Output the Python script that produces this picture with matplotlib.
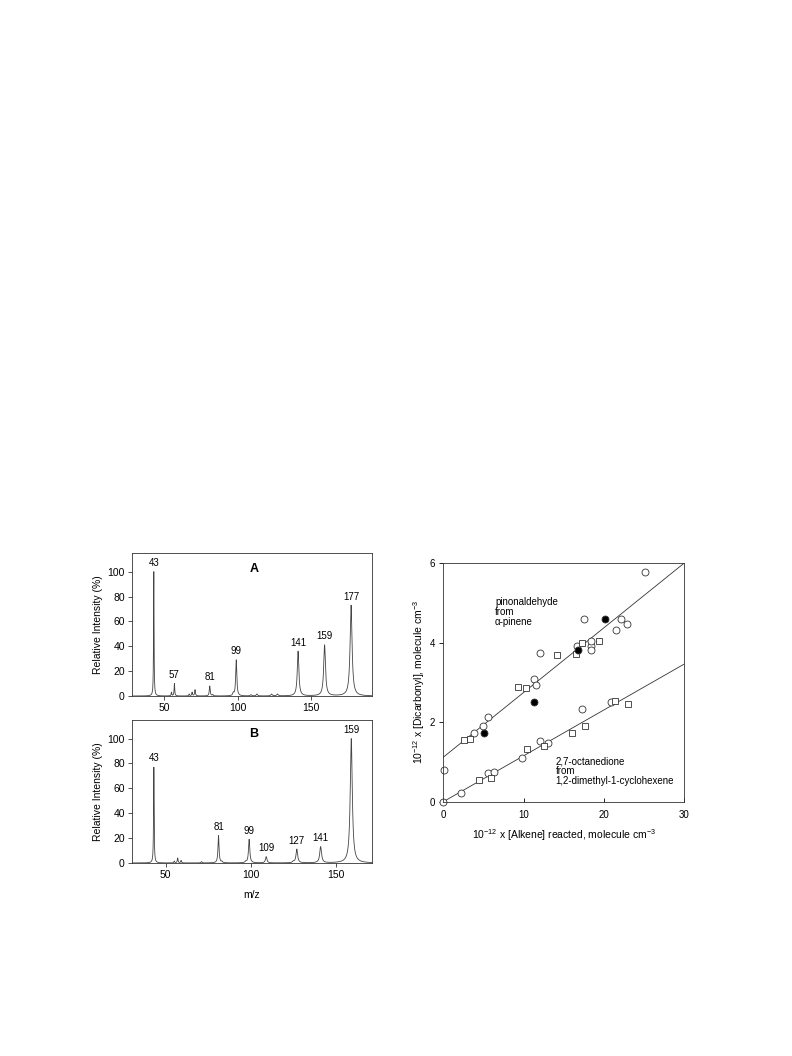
import numpy as np
import matplotlib.pyplot as plt

plt.rcParams['font.family'] = ['Liberation Sans', 'DejaVu Sans']
plt.rcParams['mathtext.fontset'] = 'custom'
plt.rcParams['mathtext.rm'] = 'Liberation Sans'
plt.rcParams['mathtext.it'] = 'Liberation Sans:italic'

# spectrum A: peak m/z and relative intensity (%)
mz_a = [43, 55, 57, 67, 69, 71, 81, 83, 97, 99, 109, 113, 123, 127, 141, 159, 177]
int_a = [100, 3, 10, 1.5, 3, 5, 8, 1, 2, 29, 1, 1.5, 1.5, 1.5, 36, 41, 73]
lab_a = [43, 57, 81, 99, 141, 159, 177]

# spectrum B
mz_b = [43, 55, 57, 59, 71, 81, 83, 97, 99, 109, 125, 127, 141, 159]
int_b = [77, 1.5, 4, 2, 1, 22, 1, 1, 19, 5, 1, 11, 13, 100]
lab_b = [43, 81, 99, 109, 127, 141, 159]

# right panel: pinonaldehyde from alpha-pinene
pin_circ_x = [0.1, 3.85, 4.95, 5.6, 11.3, 11.6, 12.0, 16.7, 17.5, 18.4, 18.45, 18.45, 21.5, 22.1, 22.85, 25.1]
pin_circ_y = [0.80, 1.74, 1.90, 2.12, 3.08, 2.94, 3.74, 3.93, 4.60, 3.92, 3.83, 4.05, 4.31, 4.59, 4.48, 5.78]
pin_sq_x = [2.6, 3.3, 9.3, 10.3, 14.2, 16.5, 17.3, 19.4]
pin_sq_y = [1.56, 1.59, 2.89, 2.87, 3.70, 3.72, 3.99, 4.04]
pin_fill_x = [5.1, 11.25, 16.8, 20.1]
pin_fill_y = [1.72, 2.52, 3.82, 4.61]
pin_fit_x = [0, 30]
pin_fit_y = [1.12, 6.0]

# 2,7-octanedione from 1,2-dimethyl-1-cyclohexene
oct_circ_x = [0, 2.25, 5.6, 6.35, 9.75, 12.0, 13.1, 17.35, 20.85]
oct_circ_y = [0, 0.21, 0.71, 0.74, 1.10, 1.52, 1.48, 2.33, 2.52]
oct_sq_x = [4.4, 6.0, 10.4, 12.6, 16.0, 17.7, 21.4, 23.0]
oct_sq_y = [0.55, 0.60, 1.32, 1.39, 1.74, 1.91, 2.53, 2.47]
oct_fit_x = [0, 30]
oct_fit_y = [0, 3.46]

ink = '#333333'
fig = plt.figure(figsize=(7.92, 10.56), dpi=100)


def spectrum(ax, mz, inten, labels, xlim, letter, letter_pos):
    x = np.arange(xlim[0], xlim[1], 0.02)
    y = np.zeros_like(x)
    for m, h in zip(mz, inten):
        w = 0.0045 * m
        y += h * w**2 / ((x - m)**2 + w**2)
    ax.plot(x, y, color='#444444', lw=0.6)
    for m in labels:
        h = inten[mz.index(m)]
        ax.text(m, h + 3, str(m), ha='center', va='bottom', fontsize=7)
    ax.text(letter_pos[0], letter_pos[1], letter, fontsize=9, fontweight='bold',
            ha='center', va='center')
    ax.set_xlim(*xlim)
    ax.set_ylim(0, 115)
    ax.set_xticks([50, 100, 150])
    ax.set_yticks([0, 20, 40, 60, 80, 100])
    ax.tick_params(labelsize=7.5, length=3, width=0.6, color=ink, pad=2)
    ax.set_ylabel('Relative Intensity (%)', fontsize=7.5, labelpad=3)
    for s in ax.spines.values():
        s.set_linewidth(0.6)
        s.set_color(ink)


ax_a = fig.add_axes([0.1663, 0.3409, 0.303, 0.1354])
spectrum(ax_a, mz_a, int_a, lab_a, (28, 191), 'A', (111, 102))

ax_b = fig.add_axes([0.1663, 0.1828, 0.303, 0.1354])
spectrum(ax_b, mz_b, int_b, lab_b, (30, 171), 'B', (101.5, 103.5))
ax_b.set_xlabel('m/z', fontsize=7.5, labelpad=7)

ax = fig.add_axes([0.5597, 0.2408, 0.3039, 0.2258])
ax.plot(pin_fit_x, pin_fit_y, color=ink, lw=0.6)
ax.plot(oct_fit_x, oct_fit_y, color=ink, lw=0.6)
mk = dict(ms=5, mew=0.6, mec=ink, ls='none', clip_on=False)
ax.plot(pin_circ_x, pin_circ_y, 'o', mfc='white', **mk)
ax.plot(pin_sq_x, pin_sq_y, 's', mfc='white', **mk)
ax.plot(pin_fill_x, pin_fill_y, 'o', mfc='black', **mk)
ax.plot(oct_circ_x, oct_circ_y, 'o', mfc='white', **mk)
ax.plot(oct_sq_x, oct_sq_y, 's', mfc='white', **mk)
ax.text(6.45, 5.15, 'pinonaldehyde\nfrom\n\u03b1-pinene', fontsize=7,
        ha='left', va='top', linespacing=0.97)
ax.text(14.0, 1.15, '2,7-octanedione\nfrom\n1,2-dimethyl-1-cyclohexene', fontsize=7,
        ha='left', va='top', linespacing=0.97)
ax.set_xlim(0, 30)
ax.set_ylim(0, 6)
ax.set_xticks([0, 10, 20, 30])
ax.set_yticks([0, 2, 4, 6])
ax.tick_params(axis='x', direction='in', labelsize=7, length=3, width=0.6, pad=6)
ax.tick_params(axis='y', direction='out', labelsize=7, length=3, width=0.6, pad=3)
ax.set_xlabel('10$^{-12}$ x [Alkene] reacted, molecule cm$^{-3}$', fontsize=7.5, labelpad=5)
ax.set_ylabel('10$^{-12}$ x [Dicarbonyl], molecule cm$^{-3}$', fontsize=7.5, labelpad=2)
for s in ax.spines.values():
    s.set_linewidth(0.6)
    s.set_color(ink)

fig.savefig('out.png', dpi=100)
